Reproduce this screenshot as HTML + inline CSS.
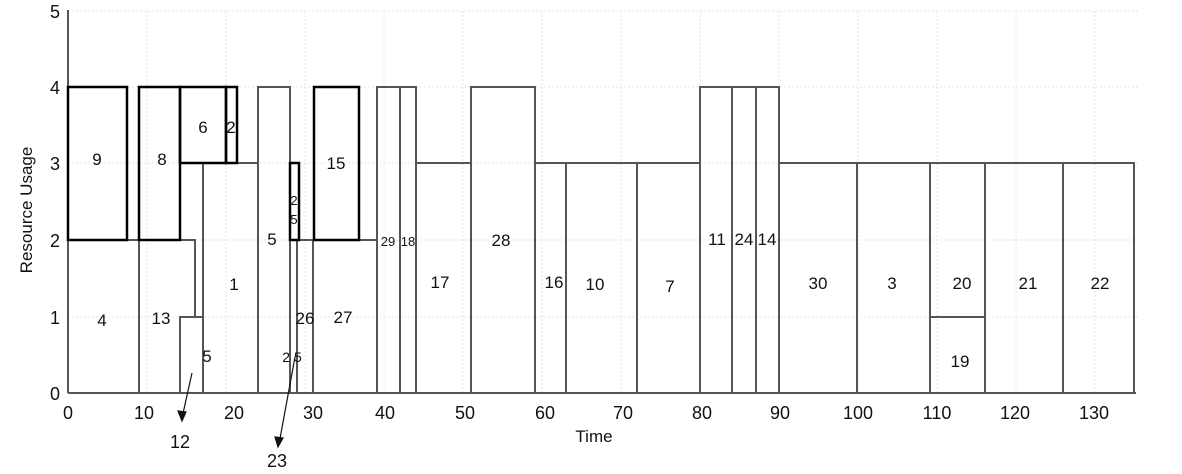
<!DOCTYPE html>
<html><head><meta charset="utf-8"><style>
html,body{margin:0;padding:0;background:#fff}
svg{display:block}
text{font-family:"Liberation Sans",sans-serif;fill:#111}
</style></head><body>
<svg width="1182" height="474" viewBox="0 0 1182 474" xmlns="http://www.w3.org/2000/svg">
<g stroke="#e4e4e4" stroke-width="1" stroke-dasharray="2,2">
<line x1="68" y1="11" x2="1140" y2="11"/><line x1="68" y1="87" x2="1140" y2="87"/><line x1="68" y1="163" x2="1140" y2="163"/><line x1="68" y1="240" x2="1140" y2="240"/><line x1="68" y1="317" x2="1140" y2="317"/>
<line x1="147" y1="11" x2="147" y2="393"/><line x1="226" y1="11" x2="226" y2="393"/><line x1="305" y1="11" x2="305" y2="393"/><line x1="384" y1="11" x2="384" y2="393"/><line x1="463" y1="11" x2="463" y2="393"/><line x1="542" y1="11" x2="542" y2="393"/><line x1="621" y1="11" x2="621" y2="393"/><line x1="700" y1="11" x2="700" y2="393"/><line x1="779" y1="11" x2="779" y2="393"/><line x1="858" y1="11" x2="858" y2="393"/><line x1="937" y1="11" x2="937" y2="393"/><line x1="1016" y1="11" x2="1016" y2="393"/><line x1="1095" y1="11" x2="1095" y2="393"/>
</g>
<g fill="none" stroke="#555" stroke-width="2">
<line x1="68" y1="10" x2="68" y2="393"/><line x1="68" y1="393" x2="1136" y2="393"/>
<polyline points="68,240 195,240 195,317"/>
<line x1="139" y1="240" x2="139" y2="393"/>
<polyline points="180,393 180,317 203,317"/>
<line x1="203" y1="163" x2="203" y2="393"/>
<polyline points="237,163 258,163"/>
<polyline points="258,393 258,87 290,87 290,393"/>
<line x1="297" y1="240" x2="297" y2="393"/>
<polyline points="299,240 313,240 313,393"/>
<polyline points="359,240 377,240"/>
<polyline points="377,393 377,87 416,87 416,393"/>
<line x1="400" y1="87" x2="400" y2="393"/>
<polyline points="416,163 471,163"/>
<polyline points="471,393 471,87 535,87 535,393"/>
<polyline points="535,163 700,163"/>
<line x1="566" y1="163" x2="566" y2="393"/><line x1="637" y1="163" x2="637" y2="393"/>
<polyline points="700,393 700,87 779,87 779,393"/>
<line x1="732" y1="87" x2="732" y2="393"/><line x1="756" y1="87" x2="756" y2="393"/>
<polyline points="779,163 1134,163 1134,393"/>
<line x1="857" y1="163" x2="857" y2="393"/><line x1="930" y1="163" x2="930" y2="393"/><line x1="985" y1="163" x2="985" y2="393"/><line x1="1063" y1="163" x2="1063" y2="393"/>
<line x1="930" y1="317" x2="985" y2="317"/>
</g>
<g fill="none" stroke="#000" stroke-width="2.5">
<rect x="68" y="87" width="59" height="153"/>
<rect x="139" y="87" width="41" height="153"/>
<rect x="180" y="87" width="46" height="76"/>
<rect x="226" y="87" width="11" height="76"/>
<rect x="290" y="163" width="9" height="77"/>
<rect x="314" y="87" width="45" height="153"/>
</g>
<g stroke="#111" stroke-width="1.2" fill="#111">
<line x1="192" y1="373" x2="182" y2="418"/><polygon points="182,421 178,411 186,412"/>
<line x1="295" y1="357" x2="279" y2="444"/><polygon points="278,447 275,437 283,438"/>
</g>
<g font-size="18" text-anchor="end">
<text x="60" y="18">5</text><text x="60" y="94">4</text><text x="60" y="170">3</text><text x="60" y="247">2</text><text x="60" y="324">1</text><text x="60" y="400">0</text>
</g>
<g font-size="18" text-anchor="middle">
<text x="68" y="419">0</text><text x="144" y="419">10</text><text x="234" y="419">20</text><text x="313" y="419">30</text><text x="385" y="419">40</text><text x="465" y="419">50</text><text x="545" y="419">60</text><text x="623" y="419">70</text><text x="702" y="419">80</text><text x="780" y="419">90</text><text x="858" y="419">100</text><text x="937" y="419">110</text><text x="1015" y="419">120</text><text x="1094" y="419">130</text>
<text x="594" y="442" font-size="17">Time</text>
<text x="180" y="448">12</text><text x="277" y="467">23</text>
</g>
<text transform="translate(32,210) rotate(-90)" font-size="17" text-anchor="middle">Resource Usage</text>
<g font-size="17" text-anchor="middle">
<text x="97" y="165">9</text><text x="162" y="165">8</text><text x="203" y="133">6</text><text x="231" y="133">2</text>
<text x="102" y="326">4</text><text x="161" y="324">13</text><text x="234" y="290">1</text><text x="207" y="362">5</text>
<text x="272" y="245">5</text><text x="294" y="205" font-size="13">2</text><text x="294" y="224" font-size="13">5</text>
<text x="336" y="169">15</text><text x="305" y="324">26</text><text x="343" y="323">27</text><text x="292" y="362" font-size="14">2 5</text>
<text x="388" y="246" font-size="13">29</text><text x="408" y="246" font-size="13">18</text>
<text x="440" y="288">17</text><text x="501" y="246">28</text><text x="554" y="288">16</text><text x="595" y="290">10</text><text x="670" y="292">7</text>
<text x="717" y="245">11</text><text x="744" y="245">24</text><text x="767" y="245">14</text>
<text x="818" y="289">30</text><text x="892" y="289">3</text><text x="962" y="289">20</text><text x="1028" y="289">21</text><text x="1100" y="289">22</text><text x="960" y="367">19</text>
</g>
</svg>
</body></html>
